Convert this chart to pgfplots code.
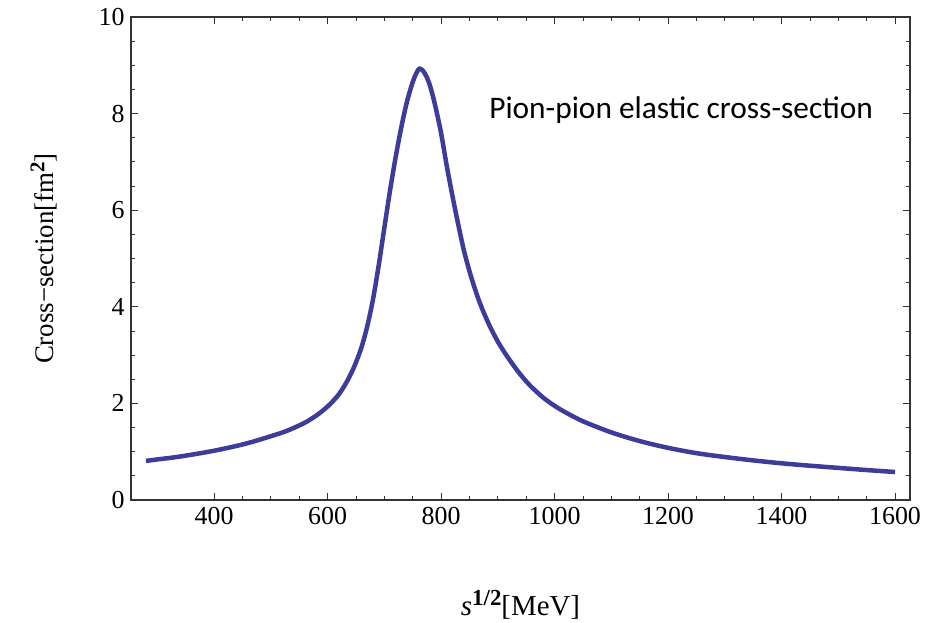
\documentclass[border=0pt]{standalone}
\usepackage{pgfplots}
\pgfplotsset{compat=1.18}
\usepackage{fontspec}
\setmainfont{Liberation Serif}
\newfontfamily\calibri{Carlito}
\definecolor{curve}{RGB}{60,60,155}
\begin{document}
\begin{tikzpicture}
\begin{axis}[
  scale only axis,
  width=779bp, height=483bp,
  xmin=253.6, xmax=1626.4,
  ymin=0, ymax=10,
  xtick={400,600,...,1600},
  ytick={0,2,...,10},
  minor x tick num=3,
  minor y tick num=3,
  tick align=inside,
  major tick length=7bp,
  minor tick length=4bp,
  every tick/.style={black!80, line width=0.8bp},
  axis line style={black!80, line width=1.1bp},
  /pgf/number format/assume math mode=true,
  /pgf/number format/set thousands separator={},
  tick label style={font=\fontsize{26}{30}\selectfont},
  xticklabel style={yshift=-4bp},
  yticklabel style={xshift=-3bp},
  xlabel={\textit{s}\raisebox{10bp}{\fontsize{23}{25}\selectfont\textbf{1/2}}[MeV]},
  ylabel={Cross−section[fm\raisebox{9bp}{\fontsize{21}{23}\selectfont\textbf{2}}]},
  xlabel style={font=\fontsize{29}{33}\selectfont, at={(axis description cs:0.5,-0.217)}, anchor=center},
  ylabel style={font=\fontsize{27}{31}\selectfont, at={(axis description cs:-0.112,0.5)}, anchor=center},
]
\addplot[curve, line width=4.5bp, smooth, tension=0.5] table {
280 0.81
300 0.84
340 0.90
400 1.02
457 1.17
516 1.38
540 1.49
563 1.62
585 1.79
604 1.98
620 2.19
635 2.47
648 2.79
660 3.17
670 3.60
680 4.15
690 4.85
700 5.63
710 6.40
720 7.10
730 7.72
740 8.25
750 8.65
757 8.85
762 8.93
768 8.89
775 8.75
782 8.52
790 8.15
800 7.60
810 6.92
820 6.30
830 5.72
840 5.18
850 4.74
860 4.36
870 4.03
885 3.62
900 3.28
915 3.00
935 2.67
956 2.38
980 2.12
1000 1.95
1020 1.81
1050 1.63
1100 1.40
1150 1.22
1200 1.08
1250 0.97
1300 0.89
1350 0.82
1400 0.76
1450 0.71
1500 0.665
1550 0.62
1600 0.58
};
\node[font=\calibri\fontsize{31.5}{36}\selectfont] at (axis cs:1223,8.07) {Pion-pion elastic cross-section};
\coordinate (sw) at (rel axis cs:0,0);
\end{axis}
\path (sw) ++(-131bp,-123bp) rectangle ++(934bp,623bp);
\end{tikzpicture}
\end{document}
